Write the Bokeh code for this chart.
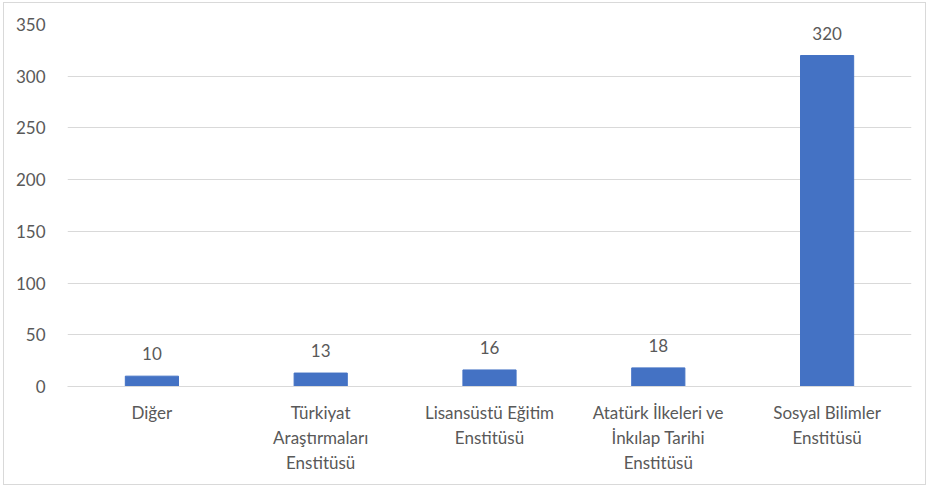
from bokeh.plotting import figure
from bokeh.models import ColumnDataSource, Range1d, FixedTicker
from bokeh.embed import file_html
from bokeh.resources import INLINE
from bokeh.core.properties import value

categories = ["Diğer", "Türkiyat Araştırmaları Enstitüsü", "Lisansüstü Eğitim Enstitüsü",
              "Atatürk İlkeleri ve İnkılap Tarihi Enstitüsü", "Sosyal Bilimler Enstitüsü"]
tick_labels = ["Diğer", "Türkiyat\nAraştırmaları\nEnstitüsü", "Lisansüstü Eğitim\nEnstitüsü",
               "Atatürk İlkeleri ve\nİnkılap Tarihi\nEnstitüsü", "Sosyal Bilimler\nEnstitüsü"]
values = [10, 13, 16, 18, 320]
y_ticks = [0, 50, 100, 150, 200, 250, 300, 350]

FONT = "Lato"
TXT = "#595959"

xs = [i + 0.5 for i in range(len(categories))]
src = ColumnDataSource(dict(x=xs, cat=categories, val=values, lab=[str(v) for v in values]))

p = figure(x_range=Range1d(0, len(categories)), y_range=Range1d(0, 350),
           width=923, height=483, output_backend="svg", toolbar_location=None,
           min_border_left=63, min_border_right=16, min_border_top=21, min_border_bottom=100)
p.styles = {"border": "1px solid #d9d9d9", "margin-left": "3px", "margin-top": "2px"}
p.outline_line_color = None
p.background_fill_color = "white"
p.border_fill_color = "white"

p.vbar(x="x", top="val", width=0.315, source=src, color="#4472C4")
p.text(x="x", y="val", text="lab", source=src, text_align="center", text_baseline="bottom",
       y_offset=-16, text_font=value(FONT), text_font_size="17px", text_color=TXT)

p.xgrid.grid_line_color = None
p.ygrid.grid_line_color = "#d9d9d9"
p.ygrid.grid_line_width = 1
p.yaxis.ticker = FixedTicker(ticks=y_ticks)
p.yaxis.axis_line_color = None
p.yaxis.major_tick_line_color = None
p.yaxis.minor_tick_line_color = None
p.yaxis.major_label_text_font = FONT
p.yaxis.major_label_text_font_size = "17px"
p.yaxis.major_label_text_color = TXT
p.yaxis.major_label_standoff = 16

p.xaxis.ticker = FixedTicker(ticks=xs)
p.xaxis.axis_line_color = "#d9d9d9"
p.xaxis.major_tick_line_color = None
p.xaxis.minor_tick_line_color = None
p.xaxis.major_label_overrides = {x: t for x, t in zip(xs, tick_labels)}
p.xaxis.major_label_text_font = FONT
p.xaxis.major_label_text_font_size = "17px"
p.xaxis.major_label_text_color = TXT
p.xaxis.major_label_text_align = "center"
p.xaxis.major_label_text_line_height = 1.2
p.xaxis.major_label_standoff = 9

open("out.html", "w").write(file_html(p, INLINE))
